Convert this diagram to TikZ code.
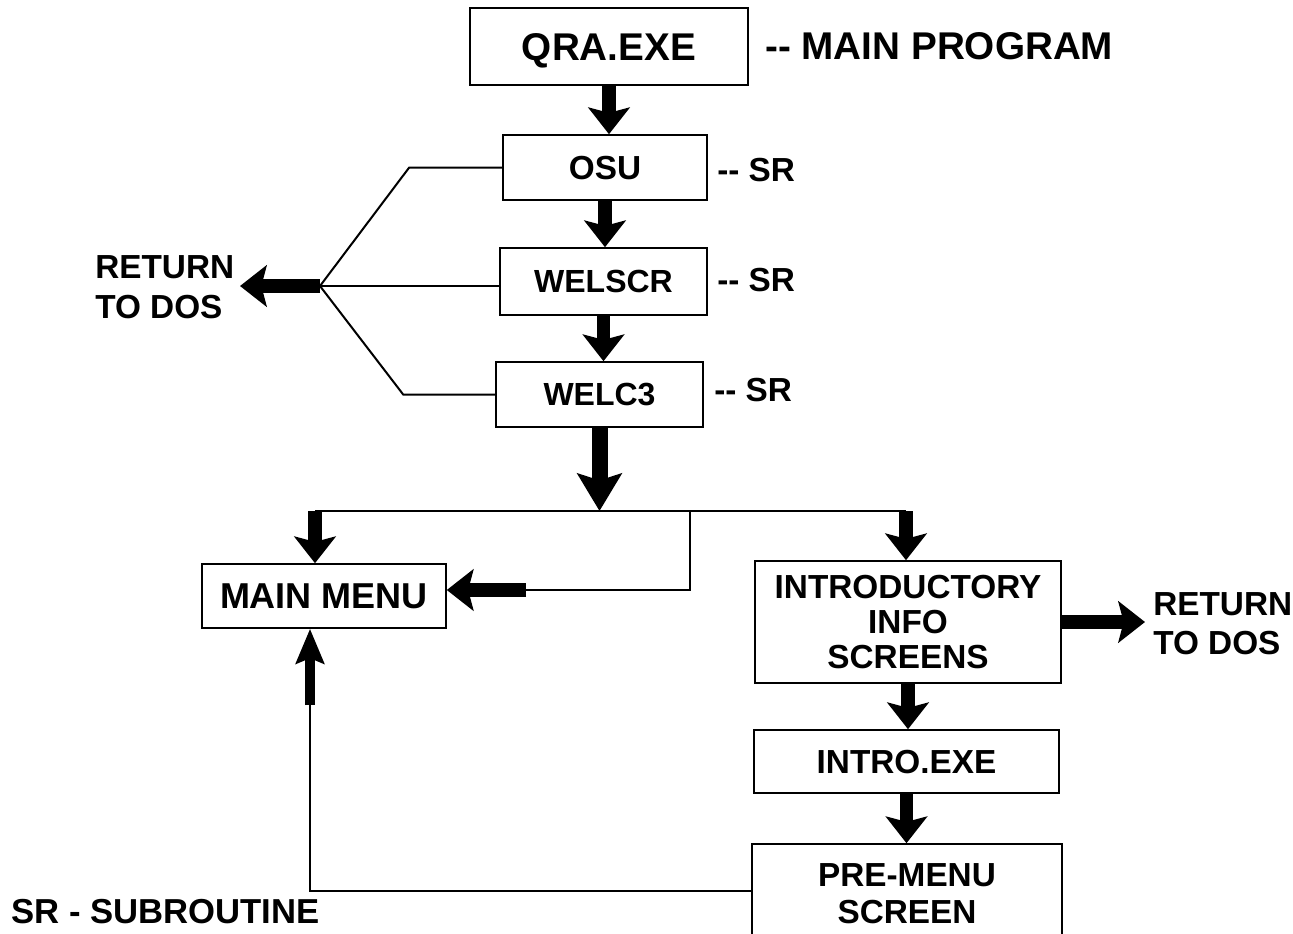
\documentclass[tikz,border=0pt]{standalone}
\usepackage{fontspec}
\setmainfont{Liberation Sans}
\usetikzlibrary{arrows.meta}
\begin{document}
\begin{tikzpicture}[x=0.75pt,y=-0.75pt,
  box/.style={draw,line width=1.2pt,inner sep=0pt,align=center,font=\bfseries\fontsize{25}{26}\selectfont},
  one/.style={text depth=-3pt},
  lbl/.style={inner sep=0pt,align=left,font=\bfseries\fontsize{25}{26}\selectfont},
  thin/.style={line width=1.5pt},
  bigarrow/.style={line width=10pt,-{Stealth[length=20pt,width=31pt,inset=4pt]}},
  hugearrow/.style={line width=12pt,-{Stealth[length=28pt,width=33pt,inset=5pt]}},
  uparrow/.style={line width=7.5pt,-{Stealth[length=26pt,width=21pt,inset=4pt]}}]
\useasboundingbox (0,0) rectangle (1293,933);
% boxes
\node[box,one,minimum width=208.5pt,minimum height=57.75pt,font=\bfseries\fontsize{29}{30}\selectfont] (qra) at (609,46.5) {QRA.EXE};
\node[box,one,minimum width=153pt,minimum height=48.75pt] (osu) at (605,167.5) {OSU};
\node[box,one,minimum width=155.25pt,minimum height=50.25pt,font=\bfseries\fontsize{24}{26}\selectfont] (welscr) at (603.5,281.5) {WELSCR};
\node[box,one,minimum width=155.25pt,minimum height=48.75pt,font=\bfseries\fontsize{24}{26}\selectfont] (welc3) at (599.5,394.5) {WELC3};
\node[box,one,minimum width=183pt,minimum height=48pt,font=\bfseries\fontsize{27}{28}\selectfont] (mm) at (324,596) {MAIN MENU};
\node[box,minimum width=229.5pt,minimum height=91.5pt,font=\bfseries\fontsize{25}{26.5}\selectfont] (info) at (908,622) {INTRODUCTORY\\INFO\\SCREENS};
\node[box,one,minimum width=228.75pt,minimum height=47.25pt] (intro) at (906.5,761.5) {INTRO.EXE};
\node[box,minimum width=232.5pt,minimum height=75pt,font=\bfseries\fontsize{25}{28}\selectfont] (pre) at (907,894) {PRE-MENU\\SCREEN};
% side labels
\node[lbl,anchor=west,font=\bfseries\fontsize{29}{30}\selectfont] (mp) at (765,46) {-{}- MAIN PROGRAM};
\node[lbl,anchor=west] (sr1) at (717,170) {-{}- SR};
\node[lbl,anchor=west] (sr2) at (717,280) {-{}- SR};
\node[lbl,anchor=west] (sr3) at (714,390) {-{}- SR};
\node[lbl,anchor=west,font=\bfseries\fontsize{25}{30}\selectfont] (retL) at (95,287) {RETURN\\TO DOS};
\node[lbl,anchor=west,font=\bfseries\fontsize{25}{29}\selectfont] (retR) at (1153,624) {RETURN\\TO DOS};
\node[lbl,anchor=west,font=\bfseries\fontsize{26}{28}\selectfont] (legend) at (11,912) {SR - SUBROUTINE};
% coordinates
\coordinate (jL) at (320,286);
\coordinate (tipL) at (240,286);
\coordinate (jb) at (603,511);
\coordinate (jl) at (315,511);
\coordinate (jr) at (906,511);
\coordinate (jm) at (690,511);
\coordinate (km) at (526,590);
\coordinate (ku) at (310,705);
\coordinate (tipR) at (1145,622);
% main chain
\draw[bigarrow] (qra.south) -- (qra.south |- osu.north);
\draw[bigarrow] (osu.south) -- (osu.south |- welscr.north);
\draw[bigarrow] (welscr.south) -- (welscr.south |- welc3.north);
\draw[hugearrow] (welc3.south) -- (welc3.south |- jb);
% branch bar
\draw[thin] (jl) -- (jr);
\draw[bigarrow] (jl) -- (jl |- mm.north);
\draw[bigarrow] (jr) -- (jr |- info.north);
\draw[thin] (jm) -- (jm |- km) -- (km);
\draw[bigarrow] (km) -- (mm.east |- km);
% return to DOS left
\draw[thin] (osu.west) -- ++(-93,0) -- (jL);
\draw[thin] (welscr.west |- jL) -- (jL);
\draw[thin] (welc3.west) -- ++(-92,0) -- (jL);
\draw[bigarrow] (jL) -- (tipL);
% right side
\draw[bigarrow] (info.east |- tipR) -- (tipR);
\draw[bigarrow] (info.south) -- (info.south |- intro.north);
\draw[bigarrow] (intro.south) -- (intro.south |- pre.north);
% loop back to main menu
\draw[thin] (pre.west |- 0,891) -- (ku |- 0,891) -- (ku);
\draw[uparrow] (ku) -- (ku |- mm.south);
\end{tikzpicture}
\end{document}
